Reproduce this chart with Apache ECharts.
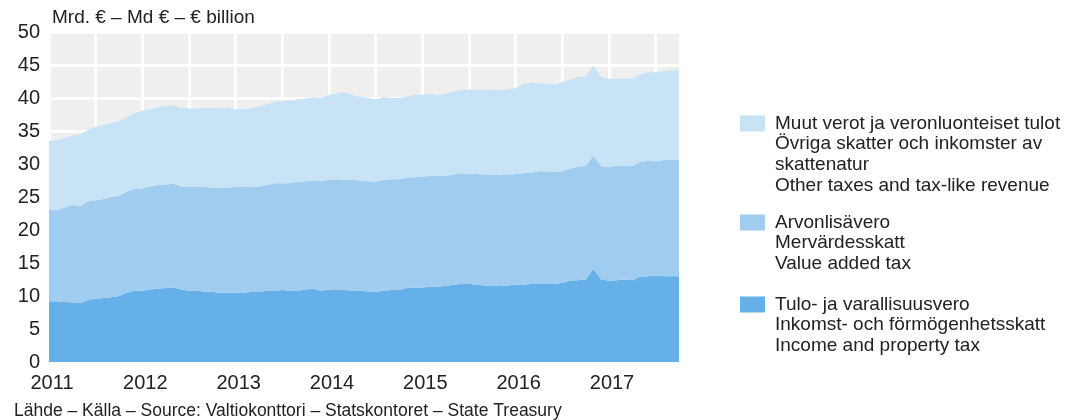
<!DOCTYPE html>
<html>
<head>
<meta charset="utf-8">
<style>
  html, body { margin: 0; padding: 0; background: #fff; }
  #chart { width: 1080px; height: 420px; }
</style>
<script src="https://cdn.jsdelivr.net/npm/echarts@6/dist/echarts.min.js"></script>
</head>
<body>
<div id="chart"></div>
<script>
// tick labels (years), one category per month Jan 2011 .. Oct 2017
const years = ['2011', '2012', '2013', '2014', '2015', '2016', '2017']
const lastMonth = 10
const categories = []
years.forEach((y, i) => {
  const n = i === years.length - 1 ? lastMonth : 12
  for (let m = 1; m <= n; m++) categories.push(y + '-' + String(m).padStart(2, '0'))
})

// Mrd. €
const incomeTax = [
  9.2, 9.2, 9.1, 9.0, 8.9, 9.4, 9.6, 9.7, 9.8, 10.0, 10.5, 10.8,
  10.8, 11.0, 11.1, 11.2, 11.3, 11.0, 10.8, 10.8, 10.7, 10.6, 10.5, 10.5,
  10.5, 10.5, 10.6, 10.6, 10.8, 10.8, 10.9, 10.8, 10.8, 11.0, 11.1, 10.8,
  11.0, 11.0, 10.9, 10.8, 10.8, 10.7, 10.6, 10.8, 10.9, 10.9, 11.2, 11.3,
  11.3, 11.4, 11.4, 11.5, 11.7, 11.8, 11.8, 11.7, 11.6, 11.6, 11.5, 11.6,
  11.7, 11.7, 11.8, 11.8, 11.8, 11.8, 12.0, 12.3, 12.4, 12.5, 14.1, 12.5,
  12.3, 12.4, 12.5, 12.4, 12.9, 13.0, 13.1, 13.0, 13.0, 13.0
]
const vat = [
  13.9, 13.8, 14.3, 14.8, 14.7, 14.9, 14.9, 15.0, 15.2, 15.2, 15.3, 15.4,
  15.5, 15.6, 15.7, 15.7, 15.7, 15.6, 15.7, 15.7, 15.8, 15.8, 15.9, 15.9,
  16.0, 16.0, 15.9, 16.0, 16.0, 16.3, 16.2, 16.3, 16.5, 16.4, 16.4, 16.6,
  16.6, 16.7, 16.7, 16.8, 16.7, 16.7, 16.7, 16.8, 16.8, 16.8, 16.7, 16.7,
  16.8, 16.8, 16.8, 16.7, 16.7, 16.8, 16.7, 16.8, 16.8, 16.8, 16.8, 16.8,
  16.8, 16.9, 16.9, 17.1, 17.1, 17.0, 16.9, 17.0, 17.2, 17.2, 17.2, 17.2,
  17.2, 17.4, 17.2, 17.3, 17.4, 17.5, 17.3, 17.6, 17.6, 17.6
]
const otherTaxes = [
  10.4, 10.6, 10.5, 10.5, 10.9, 10.9, 11.2, 11.2, 11.2, 11.3, 11.3, 11.5,
  11.8, 11.7, 11.8, 11.9, 11.9, 11.9, 11.9, 11.9, 12.0, 12.1, 12.0, 12.1,
  11.8, 11.8, 11.9, 12.1, 12.2, 12.3, 12.5, 12.5, 12.5, 12.5, 12.6, 12.6,
  12.9, 13.0, 13.3, 12.8, 12.7, 12.6, 12.5, 12.5, 12.3, 12.3, 12.3, 12.5,
  12.4, 12.5, 12.2, 12.5, 12.5, 12.6, 12.8, 12.7, 12.8, 12.9, 12.9, 12.9,
  13.0, 13.5, 13.6, 13.3, 13.3, 13.3, 13.5, 13.5, 13.6, 13.6, 13.6, 13.5,
  13.4, 13.1, 13.2, 13.2, 13.3, 13.4, 13.5, 13.5, 13.6, 13.6
]

const seriesNames = ['Tulo- ja varallisuusvero', 'Arvonlisävero', 'Muut verot ja veronluonteiset tulot']
const seriesColors = ['#65b0e8', '#a0cdef', '#c8e2f6']
const legendMoreLines = [
  ['Inkomst- och förmögenhetsskatt', 'Income and property tax'],
  ['Mervärdesskatt', 'Value added tax'],
  ['Övriga skatter och inkomster av', 'skattenatur', 'Other taxes and tax-like revenue']
]
const legendTops = [295, 213, 114]

const font = 'Liberation Sans, Arial, sans-serif'
const textColor = '#222'

const chart = echarts.init(document.getElementById('chart'))

const seriesData = [incomeTax, vat, otherTaxes]
const series = seriesData.map((d, i) => ({
  name: seriesNames[i],
  type: 'line',
  stack: 'total',
  data: d,
  color: seriesColors[i],
  showSymbol: false,
  symbol: 'none',
  lineStyle: { width: 0 },
  areaStyle: { color: seriesColors[i], opacity: 1 },
  silent: true
}))

const legends = seriesNames.map((name, i) => ({
  data: [name],
  left: 740,
  top: legendTops[i],
  padding: 0,
  itemWidth: 25,
  itemHeight: 16,
  icon: 'rect',
  selectedMode: false,
  textStyle: { fontFamily: font, fontSize: 19, color: textColor, padding: [0, 0, 0, 5] }
}))

const graphics = legendMoreLines.map((lines, i) => ({
  type: 'text',
  left: 775,
  top: legendTops[i] + 19,
  style: {
    text: lines.join('\n'),
    font: '19px ' + font,
    lineHeight: 21,
    fill: textColor
  }
}))

chart.setOption({
  animation: false,
  title: [
    {
      text: 'Mrd. € – Md € – € billion',
      left: 52,
      top: 8,
      padding: 0,
      textStyle: { fontFamily: font, fontSize: 19, fontWeight: 'normal', color: textColor }
    },
    {
      text: 'Lähde – Källa – Source: Valtiokonttori – Statskontoret – State Treasury',
      left: 14,
      top: 402,
      padding: 0,
      textStyle: { fontFamily: font, fontSize: 17.5, fontWeight: 'normal', color: textColor }
    }
  ],
  legend: legends,
  graphic: graphics,
  grid: {
    left: 49,
    right: 401,
    top: 32,
    bottom: 58,
    show: true,
    backgroundColor: '#efefef',
    borderWidth: 0
  },
  xAxis: {
    type: 'category',
    data: categories,
    boundaryGap: false,
    axisLine: { show: false },
    axisTick: { show: false },
    axisLabel: {
      interval: (idx) => idx % 12 === 0,
      formatter: (v) => v.slice(0, 4),
      margin: 11,
      padding: [0, 0, 0, 6],
      fontFamily: font,
      fontSize: 20,
      color: textColor
    },
    splitLine: {
      show: true,
      interval: (idx) => idx % 6 === 0,
      lineStyle: { color: '#fff', width: 3 }
    }
  },
  yAxis: {
    type: 'value',
    min: 0,
    max: 50,
    interval: 5,
    axisLine: { show: false },
    axisTick: { show: false },
    axisLabel: {
      margin: 9,
      fontFamily: font,
      fontSize: 20,
      color: textColor
    },
    splitLine: { lineStyle: { color: '#fff', width: 3 } }
  },
  series
})
</script>
</body>
</html>
